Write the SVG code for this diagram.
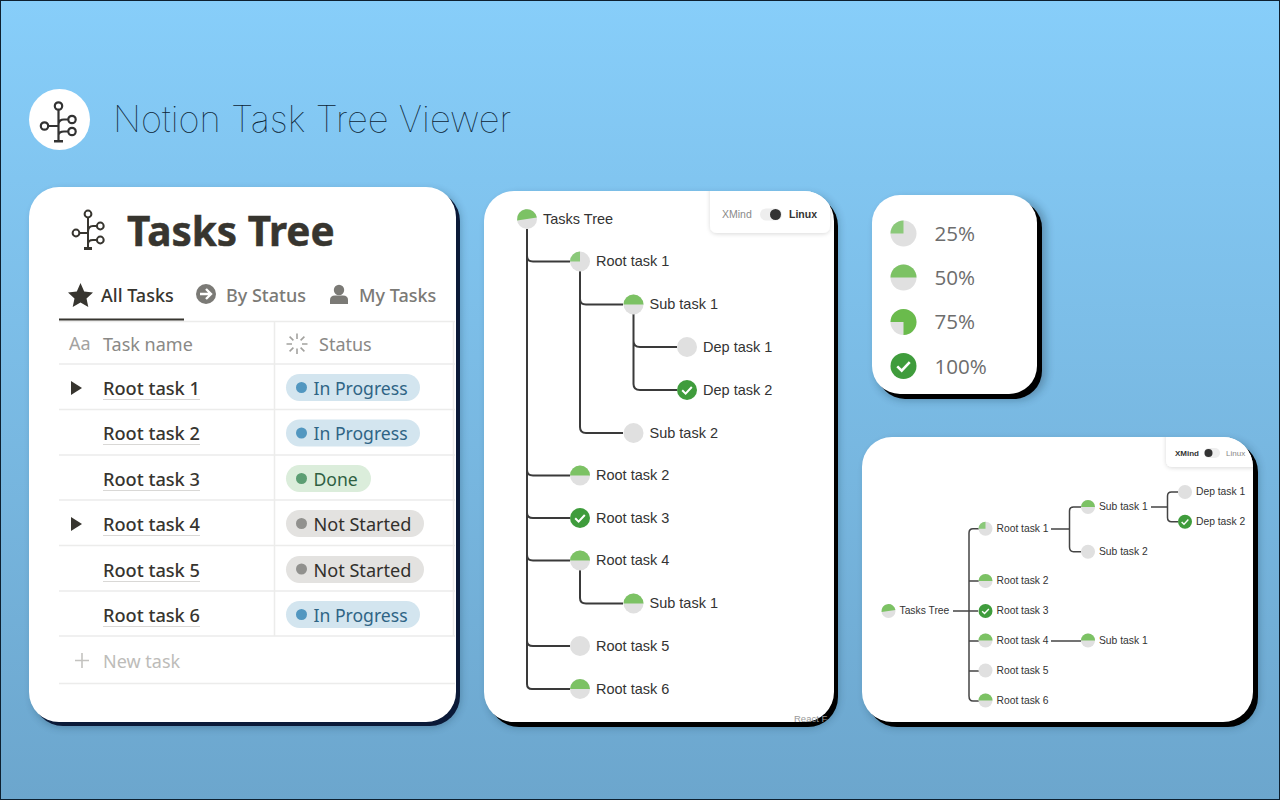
<svg xmlns="http://www.w3.org/2000/svg" width="1280" height="800" viewBox="0 0 1280 800">
<style>
.card{fill:#fff}
.navy{fill:#0b1a38}
.blk{fill:#000}
.t1{font:14.5px "Liberation Sans",Arial,sans-serif;fill:#333}
.t2{font:10.3px "Liberation Sans",Arial,sans-serif;fill:#333}
.cn{fill:none;stroke:#3a3a3a;stroke-width:2}
.cn2{fill:none;stroke:#444;stroke-width:1.5}
.n{font:500 18.2px "Noto Sans","Open Sans",sans-serif;fill:#37352f}
.h{font:18px "Noto Sans","Open Sans",sans-serif;fill:#8a8986}
.tab{font:500 18px "Noto Sans","Open Sans",sans-serif;fill:#7b7a76}
.pt{font:17.6px "Noto Sans","Open Sans",sans-serif}
.ns{font:18.1px "Noto Sans","Open Sans",sans-serif}
.ln{stroke:#ececeb;stroke-width:1.5;fill:none}
.ul{stroke:#d9d8d6;stroke-width:1;fill:none}
.lg{font:20.6px "Open Sans","Noto Sans",sans-serif;fill:#6d6d6d}
</style>
<defs>
<linearGradient id="bg" x1="0" y1="0" x2="0" y2="1"><stop offset="0" stop-color="#87cefa"/><stop offset="1" stop-color="#6ca6cd"/></linearGradient>
<filter id="soft" x="-10%" y="-10%" width="120%" height="120%"><feGaussianBlur stdDeviation="4"/></filter>
<filter id="panel" x="-20%" y="-30%" width="140%" height="170%"><feDropShadow dx="0" dy="1" stdDeviation="2" flood-color="#000" flood-opacity="0.15"/></filter>
<clipPath id="c2"><rect x="484" y="191" width="350" height="531" rx="30"/></clipPath>
<clipPath id="c4"><rect x="862" y="437" width="391" height="285" rx="30"/></clipPath>
<g id="p0"><circle r="10" fill="#e0e0e0"/></g>
<g id="p25"><circle r="10" fill="#e0e0e0"/><path d="M0,0V-10A10,10 0 0 0 -10,0Z" fill="#8bc97a"/></g>
<g id="p50"><circle r="10" fill="#e0e0e0"/><path d="M-10,0A10,10 0 0 1 10,0Z" fill="#7cc264"/></g>
<g id="pT"><circle r="10" fill="#e0e0e0"/><path d="M-9.9,1.4A10,10 0 0 1 9.9,-1.4Z" fill="#7cc264"/></g>
<g id="p75"><circle r="10" fill="#e0e0e0"/><path d="M0,0H-10A10,10 0 1 1 0,10Z" fill="#6abb4c"/></g>
<g id="p100"><circle r="10" fill="#3f9c3c"/><path d="M-4.8,0.3L-1.4,3.6L4.8,-3" fill="none" stroke="#fff" stroke-width="2"/></g>
</defs>
<rect x="0.5" y="0.5" width="1279" height="799" fill="url(#bg)" stroke="#0d2030" stroke-width="1"/>

<g id="header">
<circle cx="59.5" cy="119.5" r="30.5" fill="#fff"/>
<g fill="none" stroke="#333" stroke-width="2.2">
<circle cx="58.5" cy="106" r="3.7"/><circle cx="44.5" cy="126" r="3.7"/><circle cx="72" cy="119.5" r="3.7"/><circle cx="72" cy="131.5" r="3.7"/>
<path d="M58.5,110V140M48,126H58.5M58.5,124Q59,119.5 64,119.5H68M58.5,135Q59,131.5 64,131.5H68"/>
</g>
<path d="M54,140H63V142.5H54Z" fill="#333"/>
<text x="113" y="132" font-family="Inter,'Liberation Sans',sans-serif" font-weight="100" font-size="36.3" fill="#0c2435">Notion Task Tree Viewer</text>
</g>

<g id="table-card">
<rect x="33" y="191" width="427" height="536" rx="30" fill="#123" opacity="0.3" filter="url(#soft)"/>
<rect x="33" y="191" width="427" height="535" rx="30" class="navy"/>
<rect x="29" y="187" width="427" height="535" rx="30" class="card"/>
<g fill="none" stroke="#37352f" stroke-width="2">
<circle cx="88" cy="214" r="3.4"/><circle cx="76" cy="233" r="3.4"/><circle cx="100.3" cy="226" r="3.4"/><circle cx="100.3" cy="240" r="3.4"/>
<path d="M88,218V248M79.5,233H88M88,232Q88,226 93,226H97M88,244Q88,240 93,240H97"/>
</g>
<path d="M84,247H92V250H84Z" fill="#37352f"/>
<text x="127" y="245.500" font-family="'Noto Sans','Open Sans',sans-serif" font-weight="700" font-size="40.500" stroke="#37352f" stroke-width="0.5" fill="#37352f">Tasks Tree</text>

<path d="M80.5,283L84.2,291.5L93,292.4L86.5,298.6L88.3,307L80.5,302.6L72.7,307L74.5,298.6L68,292.4L76.8,291.5Z" fill="#37352f"/>
<text x="101" y="302" class="tab" style="fill:#37352f">All Tasks</text>
<circle cx="206" cy="294" r="10" fill="#7b7a76"/>
<path d="M200,294H210M206,289L211,294L206,299" fill="none" stroke="#fff" stroke-width="2.4"/>
<text x="226" y="302" class="tab">By Status</text>
<circle cx="339" cy="290" r="5.2" fill="#7b7a76"/>
<path d="M330,304V300Q330,295.5 335,295.5H343Q348,295.5 348,300V304Z" fill="#7b7a76"/>
<text x="359" y="302" class="tab">My Tasks</text>

<path class="ln" d="M59,321.5H455M59,364H455M59,409.5H455M59,455H455M59,500H455M59,545.5H455M59,591H455M59,636H455M59,683.5H455M274.5,322V636M453.5,322V636"/>
<path d="M59,319.5H184" stroke="#37352f" stroke-width="2" fill="none"/>

<text x="69" y="350" font-family="'Noto Sans',sans-serif" font-size="18" fill="#a3a29f">Aa</text>
<text x="103" y="351" class="h">Task name</text>
<path d="M297,333.5V339M297,348.5V354M286.5,344H292M302,344H307.500M289.600,336.600L293.400,340.400M300.600,347.600L304.400,351.400M304.400,336.600L300.600,340.400M293.400,347.600L289.600,351.400" stroke="#a3a29f" stroke-width="1.6" fill="none"/>
<text x="319" y="351" class="h">Status</text>

<path d="M71,381L82,388L71,395Z" fill="#37352f"/>
<path d="M71,517L82,524L71,531Z" fill="#37352f"/>

<text x="103" y="395" class="n">Root task 1</text><path class="ul" d="M103,399.500H200"/>
<text x="103" y="440" class="n">Root task 2</text><path class="ul" d="M103,444.500H200"/>
<text x="103" y="486" class="n">Root task 3</text><path class="ul" d="M103,490.500H200"/>
<text x="103" y="531" class="n">Root task 4</text><path class="ul" d="M103,535.500H200"/>
<text x="103" y="577" class="n">Root task 5</text><path class="ul" d="M103,581.500H200"/>
<text x="103" y="622" class="n">Root task 6</text><path class="ul" d="M103,626.500H200"/>

<rect x="286" y="374" width="134" height="27" rx="13.500" fill="#d3e5ef"/><circle cx="301.500" cy="387.500" r="5.500" fill="#5297c0"/><text x="313.500" y="395" class="pt" fill="#2f6485">In Progress</text>
<rect x="286" y="419.500" width="134" height="27" rx="13.500" fill="#d3e5ef"/><circle cx="301.500" cy="433" r="5.500" fill="#5297c0"/><text x="313.500" y="440" class="pt" fill="#2f6485">In Progress</text>
<rect x="286" y="465" width="85" height="27" rx="13.500" fill="#dbeddb"/><circle cx="301.500" cy="478.500" r="5.500" fill="#5c9e73"/><text x="313.500" y="486" class="pt" fill="#2f5f42">Done</text>
<rect x="286" y="510" width="138" height="27" rx="13.500" fill="#e3e2e0"/><circle cx="301.500" cy="523.500" r="5.500" fill="#91918e"/><text x="313.500" y="531" class="ns" fill="#32302c">Not Started</text>
<rect x="286" y="556" width="138" height="27" rx="13.500" fill="#e3e2e0"/><circle cx="301.500" cy="569" r="5.500" fill="#91918e"/><text x="313.500" y="577" class="ns" fill="#32302c">Not Started</text>
<rect x="286" y="601" width="134" height="27" rx="13.500" fill="#d3e5ef"/><circle cx="301.500" cy="614.500" r="5.500" fill="#5297c0"/><text x="313.500" y="622" class="pt" fill="#2f6485">In Progress</text>

<path d="M82,653V668M75,660.500H89" stroke="#c4c3c0" stroke-width="1.600" fill="none"/>
<text x="103" y="668" font-family="'Noto Sans',sans-serif" font-size="18" fill="#bdbcb9">New task</text>
</g>

<g id="linux-card">
<rect x="488" y="195" width="350" height="532" rx="30" fill="#123" opacity="0.3" filter="url(#soft)"/>
<rect x="489" y="196" width="349" height="531" rx="30" class="blk"/>
<rect x="484" y="191" width="350" height="531" rx="30" class="card"/>
<g clip-path="url(#c2)">
<rect x="710" y="180" width="120" height="53" rx="7" fill="#fff" filter="url(#panel)"/>
</g>
<text x="794" y="721.500" font-family="'Liberation Sans',sans-serif" font-size="9.500" fill="#999">React F</text>
<text x="722" y="218" font-family="'Liberation Sans',sans-serif" font-size="10.500" fill="#8a8a8a">XMind</text>
<rect x="760" y="208.500" width="22" height="12" rx="6" fill="#eee"/>
<circle cx="775.500" cy="214.500" r="5.500" fill="#333"/>
<text x="789" y="218" font-family="'Liberation Sans',sans-serif" font-size="10.500" font-weight="700" fill="#333">Linux</text>
</g>

<g id="linux-connectors">
<path class="cn" d="M527,229V684Q527,689 532,689H570"/>
<path class="cn" d="M527,256Q527,261.500 533,261.500H570M527,470Q527,475.500 533,475.500H570M527,513Q527,518 533,518H570M527,555Q527,560.500 533,560.500H570M527,641Q527,646 533,646H570"/>
<path class="cn" d="M580,271V427Q580,433 586,433H623M580,299Q580,304.500 586,304.500H623M580,570V598Q580,603.500 586,603.500H623"/>
<path class="cn" d="M633.500,314V384Q633.500,390 640,390H677M633.500,341Q633.500,347 640,347H677"/>
</g>
<g id="linux-nodes">
<g id="l-root"><use href="#pT" x="527" y="219"/><text x="543" y="224" class="t1">Tasks Tree</text></g>
<g id="l-r1"><use href="#p25" x="580" y="261.500"/><text x="596" y="266" class="t1">Root task 1</text></g>
<g id="l-s1"><use href="#p50" x="633.500" y="304.500"/><text x="649.500" y="309" class="t1">Sub task 1</text></g>
<g id="l-d1"><use href="#p0" x="687" y="347"/><text x="703" y="352" class="t1">Dep task 1</text></g>
<g id="l-d2"><use href="#p100" x="687" y="390"/><text x="703" y="395" class="t1">Dep task 2</text></g>
<g id="l-s2"><use href="#p0" x="633.500" y="433"/><text x="649.500" y="438" class="t1">Sub task 2</text></g>
<g id="l-r2"><use href="#p50" x="580" y="475.500"/><text x="596" y="480" class="t1">Root task 2</text></g>
<g id="l-r3"><use href="#p100" x="580" y="518"/><text x="596" y="523" class="t1">Root task 3</text></g>
<g id="l-r4"><use href="#p50" x="580" y="560.500"/><text x="596" y="565" class="t1">Root task 4</text></g>
<g id="l-s41"><use href="#p50" x="633.500" y="603.500"/><text x="649.500" y="608" class="t1">Sub task 1</text></g>
<g id="l-r5"><use href="#p0" x="580" y="646"/><text x="596" y="651" class="t1">Root task 5</text></g>
<g id="l-r6"><use href="#p50" x="580" y="689"/><text x="596" y="694" class="t1">Root task 6</text></g>
</g>

<g id="legend-card">
<rect x="876" y="199" width="170" height="201" rx="28" fill="#123" opacity="0.3" filter="url(#soft)"/>
<rect x="877" y="200" width="165" height="199" rx="28" class="blk"/>
<rect x="872" y="195" width="165" height="199" rx="28" class="card"/>
<g id="lg25"><use href="#p25" transform="translate(903.500,233.500) scale(1.3)"/><text x="934.500" y="240.800" class="lg">25%</text></g>
<g id="lg50"><use href="#p50" transform="translate(903.500,277.500) scale(1.3)"/><text x="934.500" y="285.300" class="lg">50%</text></g>
<g id="lg75"><use href="#p75" transform="translate(903.500,322) scale(1.3)"/><text x="934.500" y="329.300" class="lg">75%</text></g>
<g id="lg100"><use href="#p100" transform="translate(903.500,366) scale(1.3)"/><text x="934.500" y="373.800" class="lg">100%</text></g>
</g>

<g id="xmind-card">
<rect x="866" y="441" width="392" height="286" rx="30" fill="#123" opacity="0.3" filter="url(#soft)"/>
<rect x="867" y="442" width="391" height="285" rx="30" class="blk"/>
<rect x="862" y="437" width="391" height="285" rx="30" class="card"/>
<g clip-path="url(#c4)"><rect x="1166" y="425" width="100" height="42" rx="6" fill="#fff" filter="url(#panel)"/></g>
<text x="1175" y="456" font-family="'Liberation Sans',sans-serif" font-size="8" font-weight="700" fill="#333">XMind</text>
<rect x="1204" y="448" width="16" height="10" rx="5" fill="#eee"/>
<circle cx="1208.500" cy="453" r="4" fill="#333"/>
<text x="1226" y="456" font-family="'Liberation Sans',sans-serif" font-size="8" fill="#888">Linux</text>
</g>
<g id="xmind-connectors">
<path class="cn2" d="M953,611H978M979,528.700H973Q969,528.700 969,533V696Q969,701 973,701H979M969,581H979M969,641H979M969,671H979"/>
<path class="cn2" d="M1051,529H1069.500M1081,507H1073.500Q1069.500,507 1069.500,511V547Q1069.500,551.700 1073.500,551.700H1081"/>
<path class="cn2" d="M1151,507H1167.500M1178,492H1171.500Q1167.500,492 1167.500,496V517.500Q1167.500,521.700 1171.500,521.700H1178"/>
<path class="cn2" d="M1051,641H1081"/>
</g>
<g id="xmind-nodes">
<g id="x-root"><use href="#pT" transform="translate(888.500,611) scale(.7)"/><text x="899.500" y="614" class="t2">Tasks Tree</text></g>
<g id="x-r1"><use href="#p25" transform="translate(985.500,528.700) scale(.7)"/><text x="996.500" y="532" class="t2">Root task 1</text></g>
<g id="x-s1"><use href="#p50" transform="translate(1088,507) scale(.7)"/><text x="1099" y="510" class="t2">Sub task 1</text></g>
<g id="x-d1"><use href="#p0" transform="translate(1185,492) scale(.7)"/><text x="1196" y="495" class="t2">Dep task 1</text></g>
<g id="x-d2"><use href="#p100" transform="translate(1185,521.700) scale(.7)"/><text x="1196" y="525" class="t2">Dep task 2</text></g>
<g id="x-s2"><use href="#p0" transform="translate(1088,551.700) scale(.7)"/><text x="1099" y="555" class="t2">Sub task 2</text></g>
<g id="x-r2"><use href="#p50" transform="translate(985.500,581) scale(.7)"/><text x="996.500" y="584" class="t2">Root task 2</text></g>
<g id="x-r3"><use href="#p100" transform="translate(985.500,611) scale(.7)"/><text x="996.500" y="614" class="t2">Root task 3</text></g>
<g id="x-r4"><use href="#p50" transform="translate(985.500,640.500) scale(.7)"/><text x="996.500" y="644" class="t2">Root task 4</text></g>
<g id="x-s41"><use href="#p50" transform="translate(1088,640.500) scale(.7)"/><text x="1099" y="644" class="t2">Sub task 1</text></g>
<g id="x-r5"><use href="#p0" transform="translate(985.500,670.500) scale(.7)"/><text x="996.500" y="674" class="t2">Root task 5</text></g>
<g id="x-r6"><use href="#p50" transform="translate(985.500,700.500) scale(.7)"/><text x="996.500" y="704" class="t2">Root task 6</text></g>
</g>
</svg>
